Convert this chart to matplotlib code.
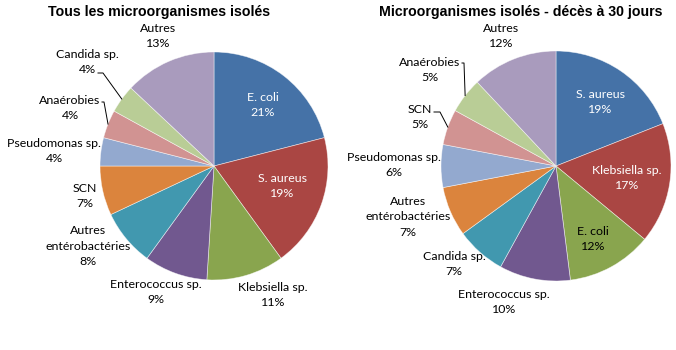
import matplotlib
matplotlib.use("Agg")
import matplotlib.pyplot as plt
import numpy as np

# ---- data ----
left_title = "Tous les microorganismes isolés"
left_labels = ["E. coli", "S. aureus", "Klebsiella sp.", "Enterococcus sp.",
               "Autres\nentérobactéries", "SCN", "Pseudomonas sp.",
               "Anaérobies", "Candida sp.", "Autres"]
left_values = [21, 19, 11, 9, 8, 7, 4, 4, 4, 13]

right_title = "Microorganismes isolés - décès à 30 jours"
right_labels = ["S. aureus", "Klebsiella sp.", "E. coli", "Enterococcus sp.",
                "Candida sp.", "Autres\nentérobactéries", "Pseudomonas sp.",
                "SCN", "Anaérobies", "Autres"]
right_values = [19, 17, 12, 10, 7, 7, 6, 5, 5, 12]

# ---- style / layout ----
colors = ["#4572A7", "#AA4643", "#89A54E", "#71588F", "#4198AF",
          "#DB843D", "#93A9CF", "#D19392", "#B9CD96", "#A99BBD"]

W, H = 676, 350
label_font = "Lato"
title_font = "Liberation Sans"

# label centres in pixel coordinates (x, y from top) and text colour
left_layout = [
    ((263, 105), "white"), ((282, 186), "white"), ((273, 295), "black"),
    ((156, 292), "black"), ((88, 246), "black"), ((85, 196), "black"),
    ((54, 151), "black"), ((70, 108), "black"), ((87, 62), "black"),
    ((158, 36), "black"),
]
right_layout = [
    ((600, 102), "white"), ((627, 178), "white"), ((593, 239), "black"),
    ((504, 302), "black"), ((454, 264), "black"), ((408, 217), "black"),
    ((394, 165), "black"), ((420, 117), "black"), ((430, 70), "black"),
    ((501, 36), "black"),
]
# leader lines: slice index -> pixel points leading to the slice edge
left_leaders = {8: [(98, 73), (103, 73)], 7: [(102, 102), (104, 102)]}
right_leaders = {8: [(462, 63), (464, 63)], 7: [(434, 112), (440, 112)]}

fig = plt.figure(figsize=(W / 100, H / 100), dpi=100)
ax = fig.add_axes([0, 0, 1, 1])


def py(y):
    return H - y


def draw_pie(values, labels, layout, leaders, center, radius, title, title_x):
    cx, cy = center
    ax.pie(values, colors=colors, startangle=90, counterclock=False,
           center=(cx, py(cy)), radius=radius, frame=True,
           wedgeprops=dict(edgecolor=(1, 1, 1, 0.6), linewidth=0.5))
    total = float(sum(values))
    cum = np.cumsum([0] + list(values))
    for i, (lab, v) in enumerate(zip(labels, values)):
        (lx, ly), col = layout[i]
        ax.text(lx, py(ly), f"{lab}\n{v}%", ha="center", va="center",
                fontsize=8.9, family=label_font, color=col, linespacing=1.45)
        if i in leaders:
            mid = (cum[i] + v / 2) / total
            ang = np.deg2rad(90 - 360 * mid)
            ex = cx + radius * np.cos(ang)
            ey = py(cy) + radius * np.sin(ang)
            pts = [(x, py(y)) for x, y in leaders[i]] + [(ex, ey)]
            xs, ys = zip(*pts)
            ax.plot(xs, ys, color="black", lw=0.7)
    ax.text(title_x, py(12), title, ha="center", va="center",
            fontsize=10.2, fontweight="bold", family=title_font)


draw_pie(left_values, left_labels, left_layout, left_leaders,
         (214, 166), 114, left_title, 159)
draw_pie(right_values, right_labels, right_layout, right_leaders,
         (556, 166), 115, right_title, 521)

ax.set_xlim(0, W)
ax.set_ylim(0, H)
ax.set_aspect("equal")
ax.axis("off")
fig.savefig("out.png", dpi=100, facecolor="white")
